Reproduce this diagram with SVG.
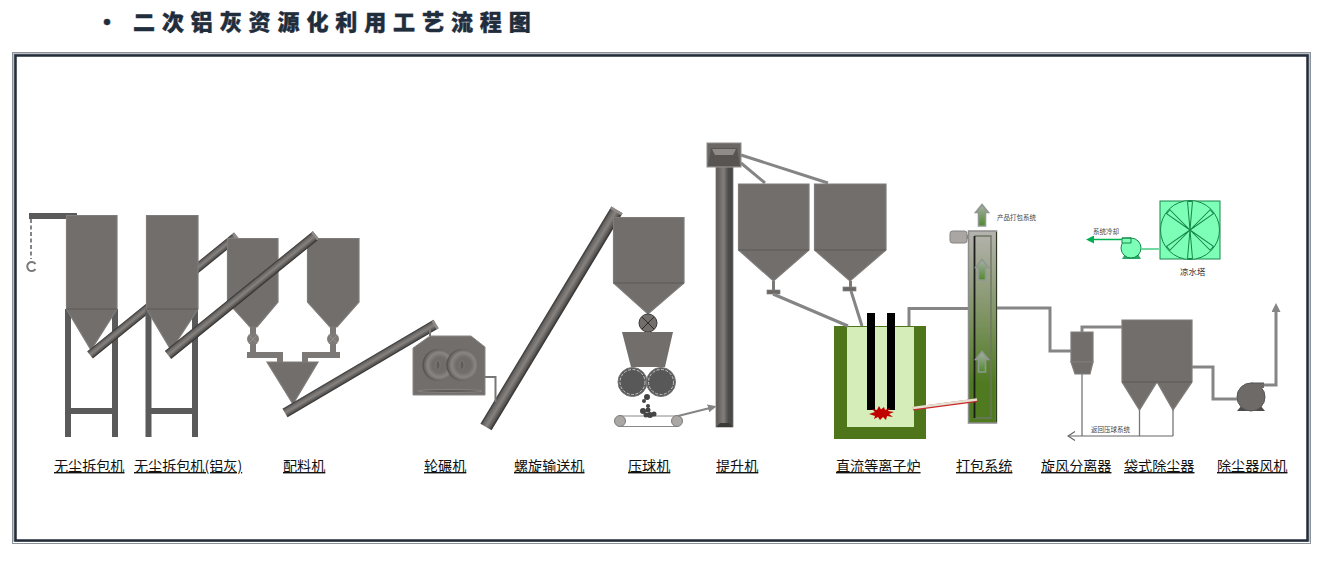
<svg xmlns="http://www.w3.org/2000/svg" width="1327" height="572" viewBox="0 0 1327 572">
<style>
.t{fill:#726e6c;stroke:#7f7c7a;stroke-width:1.2}
.tl{fill:none;stroke:#5c5957;stroke-width:1.2}
.leg{fill:#5a5a5a}
.lb{font-family:"Noto Sans CJK SC","Liberation Sans",sans-serif;font-size:14.100px;fill:#111;text-decoration:underline}
.sm{font-family:"Noto Sans CJK SC","Liberation Sans",sans-serif;font-size:6.500px;fill:#444}
.pipe{fill:none;stroke:#858585;stroke-width:3}
.thin{fill:none;stroke:#777;stroke-width:1.3}
.conv{fill:url(#cg)}
.cap{fill:#8e8b89}
.gb{fill:#7dffb8;stroke:#17864a;stroke-width:1}
.ball{fill:#444}
.ttl{font-family:"Noto Sans CJK SC","Liberation Sans",sans-serif;font-size:22px;font-weight:900;fill:#1f2d3d;stroke:#1f2d3d;stroke-width:.4px;letter-spacing:6.900px}
.arw{fill:url(#ar);stroke:#8f9791;stroke-width:1.600}
</style>
<defs>
<linearGradient id="cg" x1="0" y1="0" x2="0" y2="1"><stop offset="0" stop-color="#333"/><stop offset=".2" stop-color="#6a6664"/><stop offset=".5" stop-color="#858280"/><stop offset=".8" stop-color="#5a5755"/><stop offset="1" stop-color="#2c2c2c"/></linearGradient>
<linearGradient id="sh" x1="0" y1="0" x2="1" y2="0"><stop offset="0" stop-color="#5a5856"/><stop offset=".45" stop-color="#827e7c"/><stop offset=".72" stop-color="#4e4c4a"/><stop offset="1" stop-color="#474543"/></linearGradient>
<linearGradient id="col" x1="0" y1="0" x2="0" y2="1"><stop offset="0" stop-color="#b5b3ae"/><stop offset=".35" stop-color="#8b9a74"/><stop offset=".8" stop-color="#4f7a20"/><stop offset="1" stop-color="#4f7a20"/></linearGradient>
<linearGradient id="ar" x1="0" y1="0" x2="0" y2="1"><stop offset="0" stop-color="#a9b0aa"/><stop offset="1" stop-color="#4f8a2a"/></linearGradient>
<radialGradient id="rl" cx=".55" cy=".5" r=".55"><stop offset="0" stop-color="#6f6b68"/><stop offset=".45" stop-color="#716d6a"/><stop offset=".7" stop-color="#898582"/><stop offset=".88" stop-color="#6b6764"/><stop offset="1" stop-color="#4a4745"/></radialGradient>
<marker id="mg" markerWidth="9" markerHeight="8" refX="2" refY="4" orient="auto" markerUnits="userSpaceOnUse"><path d="M0 0L9 4L0 8Z" fill="#858585"/></marker>
<marker id="mu" markerWidth="9" markerHeight="9" refX="1" refY="4.500" orient="auto" markerUnits="userSpaceOnUse"><path d="M0 0L9 4.500L0 9Z" fill="#858585"/></marker>
<marker id="mgr" markerWidth="8" markerHeight="8" refX="2" refY="4" orient="auto" markerUnits="userSpaceOnUse"><path d="M0 0L8 4L0 8Z" fill="#00b050"/></marker>
<marker id="mo" markerWidth="9" markerHeight="10" refX="8" refY="5" orient="auto" markerUnits="userSpaceOnUse"><path d="M1 0.500L8 5L1 9.500" fill="none" stroke="#666" stroke-width="1.200"/></marker>
</defs>
<rect width="1327" height="572" fill="#fff"/>
<g id="title">
<text class="ttl" x="96" y="30">·</text>
<text class="ttl" x="133" y="30">二次铝灰资源化利用工艺流程图</text>
</g>
<g id="frame" fill="none">
<rect x="12.500" y="52.500" width="1298" height="491" stroke="#8d939b"/>
<rect x="14" y="54" width="1295" height="487" stroke="#a5aab0" stroke-width="1.500"/>
<rect x="15.500" y="55.500" width="1292" height="485" stroke="#222c3a" stroke-width="2.500"/>
</g>
<g id="crane">
<rect x="29" y="213" width="48" height="6" fill="#5a5a5a"/>
<path d="M31 219V259" stroke="#858585" stroke-width="2" stroke-dasharray="4 2.500" fill="none"/>
<path d="M35.500 264A4.500 4.500 0 1 0 35.500 269" stroke="#7a7a7a" stroke-width="2" fill="none"/>
</g>
<g id="unpack1">
<path class="leg" d="M65 309h6v128h-6zM112 309h6v128h-6zM71 408h41v6h-41z"/>
<path class="t" d="M66.500 215.500H117V309L91 350L66.500 309Z"/>
<path class="tl" d="M66.500 309H117"/>
<text class="lb" x="54" y="471">无尘拆包机</text>
</g>
<g id="conveyor1">
<rect class="conv" x="0" y="-4.500" width="189" height="9" transform="translate(90 355) rotate(-39)"/>
<rect class="cap" x="186.500" y="-4.500" width="2.500" height="9" transform="translate(90 355) rotate(-39)"/>
</g>
<g id="unpack2">
<path class="leg" d="M145.500 309h6v128h-6zM192 309h6v128h-6zM151.500 408h40.500v6h-40.500z"/>
<path class="t" d="M146.500 215.500H198V309L171 350L146.500 309Z"/>
<path class="tl" d="M146.500 309H198"/>
<text class="lb" x="134" y="471">无尘拆包机(铝灰)</text>
</g>
<g id="batching">
<path d="M250 326h6v26h-6zM330 326h6v26h-6zM247 352h36v6h-36zM277 358h6v5h-6zM302 352h38v6h-38zM302 358h6v5h-6z" fill="#7b7876"/>
<path class="t" d="M227.500 238.500H278V302L257 327H250L227.500 302Z"/>
<path class="t" d="M307.500 238.500H359V302L337 327H330L307.500 302Z"/>
<circle cx="253" cy="339" r="6" fill="#7e7b79"/><path d="M249 335L257 343M257 335L249 343" stroke="#918e8c"/>
<circle cx="333" cy="339" r="6" fill="#7e7b79"/><path d="M329 335L337 343M337 335L329 343" stroke="#918e8c"/>
<path class="t" d="M267 362H318L293 404Z"/>
<text class="lb" x="283" y="471">配料机</text>
</g>
<g id="conveyor2">
<rect class="conv" x="0" y="-5" width="190.500" height="10" transform="translate(168 355) rotate(-39)"/>
<rect class="cap" x="188" y="-5" width="2.500" height="10" transform="translate(168 355) rotate(-39)"/>
</g>
<g id="conveyor3">
<rect class="conv" x="0" y="-5" width="175.300" height="10" transform="translate(285 413) rotate(-30.500)"/>
<rect class="cap" x="172.800" y="-5" width="2.500" height="10" transform="translate(285 413) rotate(-30.500)"/>
</g>
<g id="edge-mill">
<path d="M413 348L430 336H471L485 347V395H413Z" fill="#726e6c" stroke="#8a8785"/>
<ellipse cx="438" cy="365" rx="15.500" ry="16" fill="url(#rl)"/>
<ellipse cx="438" cy="365" rx="2" ry="4.500" fill="#5f5c59" stroke="#8a8785" stroke-width=".6"/>
<ellipse cx="462" cy="365" rx="15.500" ry="16" fill="url(#rl)"/>
<ellipse cx="462" cy="365" rx="2" ry="4.500" fill="#5f5c59" stroke="#8a8785" stroke-width=".6"/>
<ellipse cx="450" cy="391" rx="32" ry="1.500" fill="#5f5c59" stroke="#8f8c8a" stroke-width=".7"/>
<text class="lb" x="424" y="471">轮碾机</text>
</g>
<g id="conveyor4">
<rect class="conv" x="0" y="-6.500" width="253.500" height="13" transform="translate(486 427) rotate(-58.900)"/>
<rect class="cap" x="251" y="-6.500" width="2.500" height="13" transform="translate(486 427) rotate(-58.900)"/>
<text class="lb" x="514" y="471">螺旋输送机</text>
</g>
<g id="press">
<path class="t" d="M613.500 217.500H684V283L648 314L613.500 283Z"/>
<path class="tl" d="M613.500 283H684"/>
<circle cx="648" cy="323" r="9" fill="#726e6c" stroke="#3c3a38"/>
<path d="M642 317L654 329M654 317L642 329" stroke="#2e2c2a"/>
<path d="M622 332H673L665 367H631Z" fill="#726e6c"/>
<circle cx="632.500" cy="382" r="14.500" fill="#585858" stroke="#777"/>
<circle cx="632.500" cy="382" r="12.500" fill="none" stroke="#ddd" stroke-width=".8" stroke-dasharray="3 1.500"/>
<circle cx="661" cy="382" r="14.500" fill="#585858" stroke="#777"/>
<circle cx="661" cy="382" r="12.500" fill="none" stroke="#ddd" stroke-width=".8" stroke-dasharray="3 1.500"/>
<path d="M620 416H677M620 426.500H677" stroke="#888" fill="none"/>
<circle cx="620" cy="421" r="5.500" fill="#aaa7a4" stroke="#7c7c7c"/>
<circle cx="677" cy="421" r="5.500" fill="#aaa7a4" stroke="#7c7c7c"/>
<circle class="ball" cx="647" cy="397" r="3"/><circle class="ball" cx="644" cy="401" r="2"/><circle class="ball" cx="648" cy="406" r="2"/><circle class="ball" cx="643" cy="411" r="3"/><circle class="ball" cx="648" cy="410" r="2.500"/><circle class="ball" cx="650" cy="415" r="3"/><circle class="ball" cx="646" cy="415" r="2.500"/><circle class="ball" cx="654" cy="414" r="2.500"/>
<text class="lb" x="628" y="471">压球机</text>
</g>
<g id="elevator">
<rect x="716" y="167" width="17" height="260" fill="url(#sh)" stroke="#777" stroke-width=".8"/>
<path d="M716.500 427L720 423H729L732.500 427Z" fill="#3b3a38"/>
<rect x="707" y="143" width="34" height="24" fill="#6a6765" stroke="#8f8d8b"/>
<path d="M711 148H737L740 166H708Z" fill="#575452"/>
<path d="M712 149H736L733 155H715Z" fill="#8e8b88"/>
<text class="lb" x="716" y="471">提升机</text>
</g>
<g id="silo1">
<path class="t" d="M738.500 184H809V250L773.500 281L738.500 250Z"/>
<path class="tl" d="M738.500 250H809"/>
<path d="M772 281h3v9h-3z" fill="#7b7876"/>
<rect x="767" y="290" width="13" height="4" fill="#6a6765" stroke="#858280" stroke-width=".7"/>
</g>
<g id="silo2">
<path class="t" d="M814.500 184H886V250L850 281L814.500 250Z"/>
<path class="tl" d="M814.500 250H886"/>
<path d="M849 281h3v6h-3z" fill="#7b7876"/>
<rect x="843" y="287" width="13" height="4" fill="#6a6765" stroke="#858280" stroke-width=".7"/>
</g>
<g id="furnace">
<path d="M834 326H926V439H834Z" fill="#4f751b"/>
<rect x="847" y="326.500" width="67" height="100.500" fill="#d5edb8"/>
<path d="M847 326.500H914" stroke="#4f751b" fill="none"/>
<rect x="867" y="313" width="8" height="97" fill="#000"/>
<rect x="887" y="313" width="8" height="97" fill="#000"/>
<path fill="#c00000" d="M869 414L875 412L872 409L877 410L879 406L881 409.500L884 407L885 410L890 408L888 411L894 412L889 414L893 417L887 416L886 420L883 417L880 420L878 417L874 419L875 416Z"/>
<text class="lb" x="836" y="471">直流等离子炉</text>
</g>
<g id="packing">
<rect x="950" y="231" width="17" height="12" rx="2.500" fill="#aaa6a3" stroke="#858280"/>
<rect x="967" y="235" width="2" height="4" fill="#858280"/>
<rect x="968.500" y="231" width="28" height="192" fill="url(#col)" stroke="#8c8c8c" stroke-width="1.500"/>
<path d="M996.500 232V422" stroke="#2f3a25" stroke-width="1"/>
<path d="M974.500 236H991V418H974.500" fill="none" stroke="#6d7566" stroke-width="1.300"/>
<path d="M974.500 236V418" stroke="#1d1d1d" stroke-width="1.800"/>
<path class="arw" d="M982 204.500L988.500 212.500H985.500V226H978.500V212.500H975.500Z"/>
<path class="arw" d="M982 259.500L988.500 267.500H985.500V280H978.500V267.500H975.500Z"/>
<path class="arw" d="M982 351.500L988.500 359.500H985.500V372H978.500V359.500H975.500Z"/>
<text class="sm" x="997" y="220">产品打包系统</text>
<text class="lb" x="956" y="471">打包系统</text>
</g>
<g id="cooling-tower">
<rect class="gb" x="1160" y="201" width="60" height="58" stroke-width="1.500"/>
<circle class="gb" cx="1190" cy="230" r="29.500" stroke-width="1.200"/>
<path class="gb" d="M1190 230L1187.500 201.500H1192.500Z"/>
<path class="gb" d="M1190 230L1187.500 201.500H1192.500Z" transform="rotate(50 1190 230)"/>
<path class="gb" d="M1190 230L1187.500 201.500H1192.500Z" transform="rotate(130 1190 230)"/>
<path class="gb" d="M1190 230L1187.500 201.500H1192.500Z" transform="rotate(180 1190 230)"/>
<path class="gb" d="M1190 230L1187.500 201.500H1192.500Z" transform="rotate(230 1190 230)"/>
<path class="gb" d="M1190 230L1187.500 201.500H1192.500Z" transform="rotate(310 1190 230)"/>
<text x="1180" y="275" font-family="'Noto Sans CJK SC','Liberation Sans',sans-serif" font-size="8.500" fill="#333">凉水塔</text>
</g>
<g id="pump">
<path d="M1122 259L1125 254H1138L1141 259Z" fill="#2aa868"/>
<circle class="gb" cx="1131" cy="248" r="10"/>
<path class="gb" d="M1122 238H1131V243H1122Z" stroke="none"/>
<path d="M1122 238H1131" stroke="#17864a" fill="none"/>
<text class="sm" x="1093" y="234">系统冷却</text>
</g>
<g id="cyclone">
<path class="t" d="M1071 332H1093V362H1071Z" stroke="#4e4c4a"/>
<path class="t" d="M1071 362H1093L1090 374H1075Z" stroke="#4e4c4a"/>
<text class="lb" x="1041" y="471">旋风分离器</text>
</g>
<g id="bag-filter">
<path class="t" d="M1122 320H1192V382L1173 410L1157 382L1139.500 410L1122 382Z" stroke="#4e4c4a"/>
<path class="tl" d="M1122 382H1192"/>
<text class="sm" x="1091" y="432">返回压球系统</text>
<text class="lb" x="1124" y="471">袋式除尘器</text>
</g>
<g id="fan">
<path d="M1237 411L1242 405H1260L1265 411Z" fill="#4e4c4a"/>
<circle cx="1251" cy="397" r="14" fill="#6e6a68" stroke="#555"/>
<rect x="1251" y="383" width="13" height="5" fill="#6e6a68"/>
<path d="M1251 383H1264" stroke="#555" fill="none"/>
<text class="lb" x="1217" y="471">除尘器风机</text>
</g>
<g id="connectors">
<path class="pipe" d="M741 155L828 183M741 163L765 183"/>
<path class="pipe" d="M773 294L848 326M851 291L862 326"/>
<path class="pipe" d="M909 326V308.500H968M997 308H1050V351H1071"/>
<path class="pipe" d="M1082 332V327H1122"/>
<path class="pipe" d="M1192 367H1213V399H1237"/>
<path class="pipe" d="M1264 385H1276V311" marker-end="url(#mu)"/>
<path fill="none" stroke="#777" stroke-width="2" d="M430 336V329M485 377H495.500V402"/>
<path fill="none" stroke="#858585" stroke-width="2" d="M678 416L710 408" marker-end="url(#mg)"/>
<path class="thin" d="M1082 374V436M1139.500 410V436M1173 410V436"/>
<path fill="none" stroke="#666" stroke-width="1.200" d="M1173 436H1068" marker-end="url(#mo)"/>
<path fill="none" stroke="#70d8a0" stroke-width="2" d="M1141 249H1160"/>
<path fill="none" stroke="#00b050" stroke-width="1.500" d="M1122 239.500H1092" marker-end="url(#mgr)"/>
<path fill="none" stroke="#c8282a" stroke-width="3.600" d="M913 408.800L977 400.300"/>
<path fill="none" stroke="#e4e0d2" stroke-width="2.400" d="M913 408L977 399.500"/>
</g>
</svg>
